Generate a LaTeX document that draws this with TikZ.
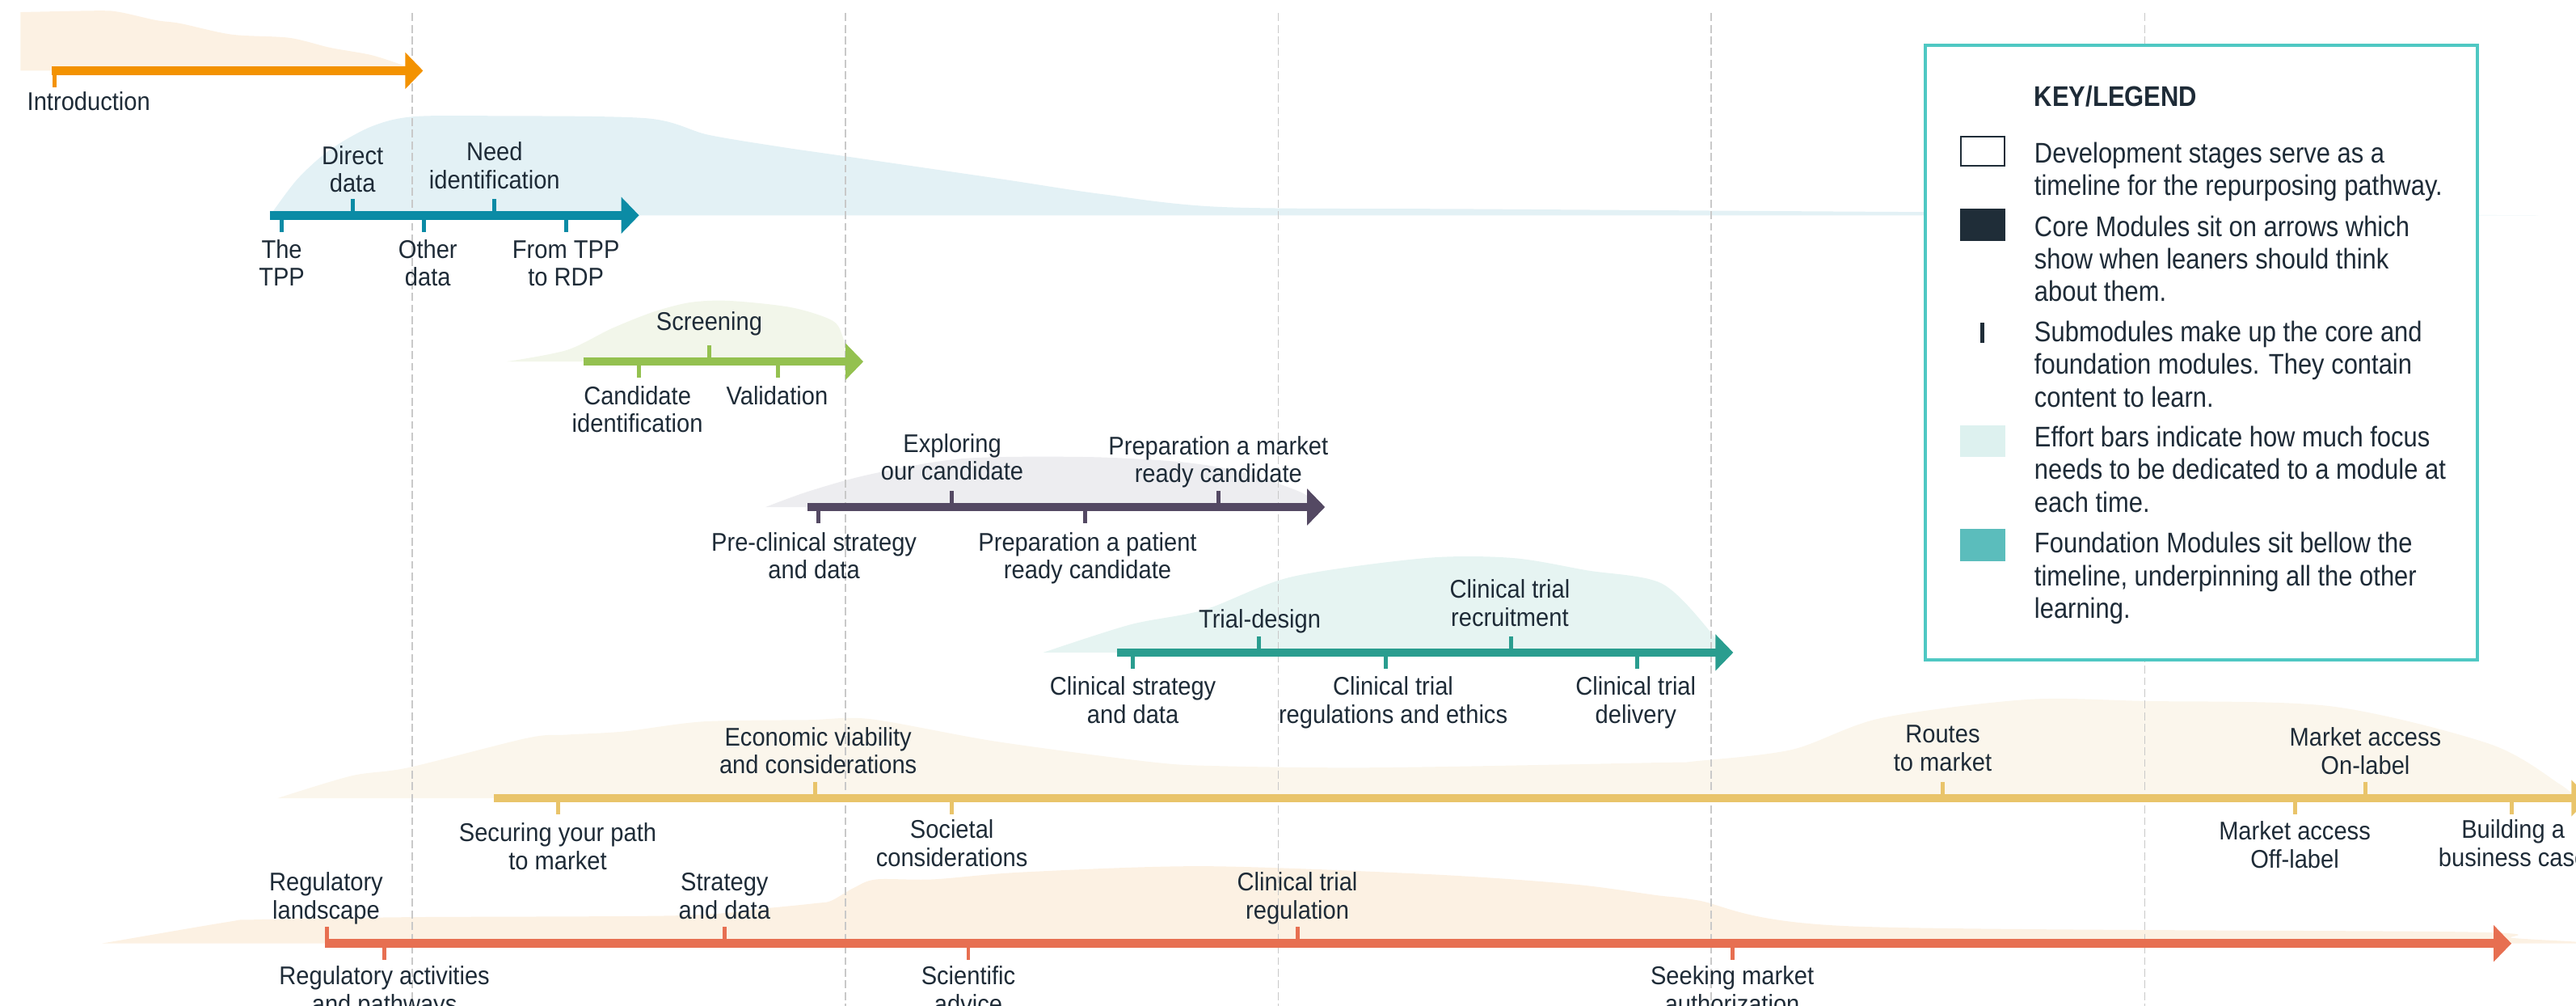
\documentclass[tikz,border=0pt]{standalone}
\usepackage{fontspec}
\setmainfont{Liberation Sans}
\newfontfamily\lblfont[FakeStretch=0.92]{Liberation Sans}
\newfontfamily\legfont[FakeStretch=0.88]{Liberation Sans}
\usetikzlibrary{arrows.meta}
\definecolor{txt}{HTML}{1E2B37}
\definecolor{cOr}{HTML}{F39200}
\definecolor{eOr}{HTML}{FCF1E3}
\definecolor{cTe}{HTML}{0B8BA5}
\definecolor{eTe}{HTML}{E3F1F5}
\definecolor{cGr}{HTML}{94C150}
\definecolor{eGr}{HTML}{F2F6EA}
\definecolor{cPu}{HTML}{544963}
\definecolor{ePu}{HTML}{EDEDF0}
\definecolor{cCl}{HTML}{2A9D8F}
\definecolor{eCl}{HTML}{E6F4F2}
\definecolor{cYe}{HTML}{E9C46A}
\definecolor{eYe}{HTML}{FBF6EC}
\definecolor{cRe}{HTML}{E76F51}
\definecolor{eRe}{HTML}{FCF1E3}
\definecolor{gridgray}{HTML}{C9C9C9}
\definecolor{legbord}{HTML}{4FC8C3}
\definecolor{navy}{HTML}{1F2D38}
\definecolor{legeff}{HTML}{DDF1EF}
\definecolor{legfound}{HTML}{5BBDBC}
\tikzset{
  modarrow/.style={line width=3pt,-{Triangle[length=0.22cm,width=0.44cm]}},
  tickline/.style={line width=1.4pt},
  gridline/.style={gridgray,line width=0.45pt,dash pattern=on 2.8pt off 1.3pt},
  lbl/.style={font=\lblfont\fontsize{9}{9.8}\selectfont,text=txt,align=center,inner sep=0pt,anchor=base},
  legtxt/.style={font=\legfont\fontsize{10}{11.5}\selectfont,text=txt,align=left,inner sep=0pt,anchor=base west},
  effort/.style={smooth,tension=0.5}
}
\newcommand\tku[3]{\draw[tickline,#1] (#2,#3) -- ++(0,-10);}
\newcommand\tkd[3]{\draw[tickline,#1] (#2,#3) -- ++(0,10);}
\begin{document}
\begin{tikzpicture}[x=0.020325cm,y=-0.020325cm]
\useasboundingbox (0,0) rectangle (1568,611.56);
\clip (0,0) rectangle (1568,611.56);
% ---------- effort bars
\fill[eOr] (12.5,43) -- plot[effort] coordinates {(12.5,7.4)(60,6.5)(73,7.4)(95,12.3)(110,14.3)(141,21)(176,23)(201,29)(226,33.5)(246,40)(252,43)} -- cycle;
\fill[eTe] plot[effort] coordinates {(164.5,131)(181,109)(201,91)(226,77)(251,71)(300,70.5)(394,72)(431,82)(476,89.5)(514,95)(610,109)(670,118)(745,126)(900,127.2)(1172,129)(1545,131)} -- cycle;
\fill[eGr] plot[effort] coordinates {(308.5,220)(345,213)(372,200)(397,190)(420,184)(444,183)(481.5,187)(506.6,195)(513,205)(516,220)} -- cycle;
\fill[ePu] plot[effort] coordinates {(466,308.5)(492,299)(529.5,288.6)(586,279)(661,278)(718,281)(755,287)(793,300)(800,308.5)} -- cycle;
\fill[eCl] plot[effort] coordinates {(635,397)(688,380)(733,371)(786,351)(868,339.5)(921,339.5)(966,347)(1011.5,355)(1041.6,385)(1048,397)} -- cycle;
\fill[eYe] plot[effort] coordinates {(169,485.6)(214,472)(248.6,467)(321,449)(345,447)(380,445)(428,439)(492,438)(530,437.5)(605.7,451)(699,463.4)(740.6,466)(837.5,467)(1008.6,464)(1033,463)(1091,456)(1144.5,437)(1233.5,425.6)(1305,426.5)(1419,429.7)(1515.4,452.6)(1558,477)(1568,485.6)} -- cycle;
\fill[eRe] plot[effort] coordinates {(62,574)(138,561)(155.4,559.5)(248.6,558)(414,557)(466,552.6)(497,549.5)(506,548)(520,540)(533.5,535)(568,535)(623,530.6)(733.6,527)(872,532)(958,538)(1008.6,544.7)(1033,547.7)(1126,563.5)(1501,567)(1529.7,570.7)(1568,573)(1568,574)} -- cycle;
% ---------- dashed stage lines
\foreach \gx in {251,514.5,778,1041.5,1305.5}
  \draw[gridline] (\gx,8) -- (\gx,612);
% ---------- arrows
\coordinate (aIs) at (31.4,43);   \coordinate (aIe) at (257.5,43);
\coordinate (aTs) at (164.5,131); \coordinate (aTe) at (389,131);
\coordinate (aGs) at (355,220);   \coordinate (aGe) at (525.5,220);
\coordinate (aPs) at (491.5,308.5); \coordinate (aPe) at (806.5,308.5);
\coordinate (aCs) at (680,397);   \coordinate (aCe) at (1055,397);
\coordinate (aYs) at (300.8,485.6); \coordinate (aYe) at (1576,485.6);
\coordinate (aRs) at (198,574);   \coordinate (aRe) at (1528.7,574);
\draw[modarrow,cOr] (aIs) -- (aIe);
\draw[modarrow,cTe] (aTs) -- (aTe);
\draw[modarrow,cGr] (aGs) -- (aGe);
\draw[modarrow,cPu] (aPs) -- (aPe);
\draw[modarrow,cCl] (aCs) -- (aCe);
\draw[modarrow,cYe] (aYs) -- (aYe);
\draw[modarrow,cRe] (aRs) -- (aRe);
% ---------- ticks
\tkd{cOr}{33}{43}
\tku{cTe}{214.6}{131} \tku{cTe}{301}{131}
\tkd{cTe}{171.5}{131} \tkd{cTe}{258}{131} \tkd{cTe}{344.5}{131}
\tku{cGr}{431.7}{220}
\tkd{cGr}{389}{220} \tkd{cGr}{473.7}{220}
\tku{cPu}{579.4}{308.5} \tku{cPu}{741.6}{308.5}
\tkd{cPu}{498}{308.5} \tkd{cPu}{660.3}{308.5}
\tku{cCl}{766.5}{397} \tku{cCl}{920}{397}
\tkd{cCl}{689.6}{397} \tkd{cCl}{843.3}{397} \tkd{cCl}{996.4}{397}
\tku{cYe}{496}{485.6} \tku{cYe}{1182.5}{485.6} \tku{cYe}{1439.8}{485.6}
\tkd{cYe}{339.5}{485.6} \tkd{cYe}{579.4}{485.6} \tkd{cYe}{1396.8}{485.6} \tkd{cYe}{1528.7}{485.6}
\tku{cRe}{198.8}{574} \tku{cRe}{441}{574} \tku{cRe}{790}{574}
\tkd{cRe}{234}{574} \tkd{cRe}{589.4}{574} \tkd{cRe}{1054.4}{574}
% ---------- labels (y = baseline of last line)
\node[lbl] (lIntro) at (54,67.4) {Introduction};
\node[lbl] (lDirect) at (214.6,117) {Direct\\data};
\node[lbl] (lNeed) at (301,114.7) {Need\\identification};
\node[lbl] (lTPP) at (171.5,174) {The\\TPP};
\node[lbl] (lOther) at (260.4,174) {Other\\data};
\node[lbl] (lFrom) at (344.5,174) {From TPP\\to RDP};
\node[lbl] (lScreen) at (431.7,201) {Screening};
\node[lbl] (lCand) at (388,263) {Candidate\\identification};
\node[lbl] (lValid) at (473,246) {Validation};
\node[lbl] (lExpl) at (579.6,292) {Exploring\\our candidate};
\node[lbl] (lPrepM) at (741.6,293.5) {Preparation a market\\ready candidate};
\node[lbl] (lPre) at (495.5,352) {Pre-clinical strategy\\and data};
\node[lbl] (lPrepP) at (662,352) {Preparation a patient\\ready candidate};
\node[lbl] (lTrial) at (766.8,382) {Trial-design};
\node[lbl] (lRecr) at (919,381) {Clinical trial\\recruitment};
\node[lbl] (lCStrat) at (689.6,440) {Clinical strategy\\and data};
\node[lbl] (lCReg) at (848,440) {Clinical trial\\regulations and ethics};
\node[lbl] (lCDel) at (995.7,440) {Clinical trial\\delivery};
\node[lbl] (lEcon) at (498,470.6) {Economic viability\\and considerations};
\node[lbl] (lSec) at (339.5,529) {Securing your path\\to market};
\node[lbl] (lSoc) at (579.4,527) {Societal\\considerations};
\node[lbl] (lRoutes) at (1182.5,469) {Routes\\to market};
\node[lbl] (lOn) at (1439.8,471) {Market access\\On-label};
\node[lbl] (lOff) at (1396.8,528) {Market access\\Off-label};
\node[lbl] (lBuild) at (1529.7,527) {Building a\\business case};
\node[lbl] (lRegL) at (198.5,559) {Regulatory\\landscape};
\node[lbl] (lStrat) at (441,559) {Strategy\\and data};
\node[lbl] (lCTReg) at (789.7,559) {Clinical trial\\regulation};
\node[lbl] (lRegA) at (234,616) {Regulatory activities\\and pathways};
\node[lbl] (lSci) at (589.4,616) {Scientific\\advice};
\node[lbl] (lSeek) at (1054.4,616) {Seeking market\\authorization};
% ---------- legend
\draw[legbord,line width=1.1pt,fill=white] (1172,27.5) rectangle (1508,401.5);
\node[legtxt,font=\legfont\bfseries\fontsize{10}{11.5}\selectfont] (legTitle) at (1238,64.5) {KEY/LEGEND};
\draw[navy,line width=0.6pt,fill=white] (1193.5,83.2) rectangle (1220.2,101);
\fill[navy] (1193,127) rectangle (1220.6,146.4);
\draw[navy,line width=1.5pt] (1206.7,196.5) -- (1206.7,208.8);
\fill[legeff] (1193,258.7) rectangle (1220.6,278);
\fill[legfound] (1193,322) rectangle (1220.6,341.5);
\node[legtxt] (legA) at (1238,118.8) {Development stages serve as a\\timeline for the repurposing pathway.};
\node[legtxt] (legB) at (1238,183.5) {Core Modules sit on arrows which\\show when leaners should think\\about them.};
\node[legtxt] (legC) at (1238,247.5) {Submodules make up the core and\\foundation modules. They contain\\content to learn.};
\node[legtxt] (legD) at (1238,311.5) {Effort bars indicate how much focus\\needs to be dedicated to a module at\\each time.};
\node[legtxt] (legE) at (1238,376.2) {Foundation Modules sit bellow the\\timeline, underpinning all the other\\learning.};
\end{tikzpicture}
\end{document}
